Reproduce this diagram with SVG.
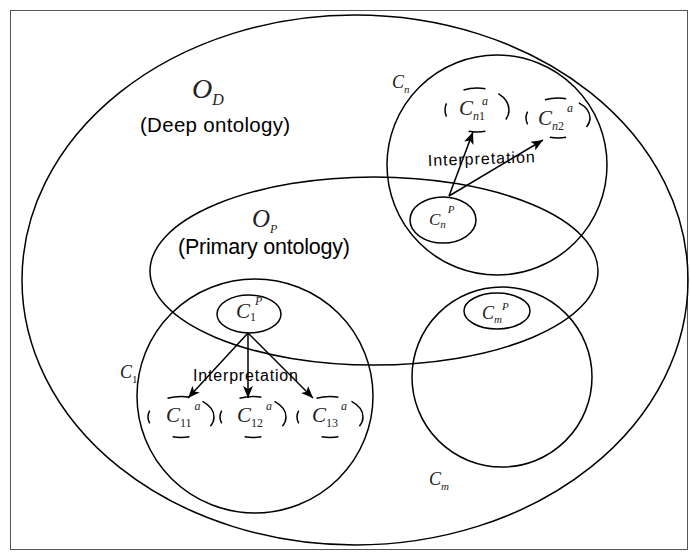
<svg xmlns="http://www.w3.org/2000/svg" width="690" height="552" viewBox="0 0 690 552">
<style>
.ln{fill:none;stroke:#000;stroke-width:1.5}
.ds{fill:none;stroke:#000;stroke-width:1.5;stroke-dasharray:6 14 10 16 8 13 13 8 12}
.m{font-family:"Liberation Serif",serif;font-style:italic;fill:#222}
.u{font-style:normal}
.s{font-family:"Liberation Sans",sans-serif;fill:#000}
.ar{stroke:#000;stroke-width:1.5;fill:none;marker-end:url(#ah)}
</style>
<defs>
<marker id="ah" viewBox="0 0 12 10" refX="12" refY="5" markerWidth="12" markerHeight="10" markerUnits="userSpaceOnUse" orient="auto">
<path d="M0,0 L12,5 L0,10 L3,5 z" fill="#000"/>
</marker>
</defs>
<rect x="10.5" y="10.5" width="677" height="539" fill="#fff" stroke="#555" stroke-width="1"/>
<g id="OD">
<ellipse class="ln" cx="355" cy="280" rx="333" ry="265"/>
<text class="m" x="192" y="98" font-size="28">O<tspan font-size="16" dy="7">D</tspan></text>
<text class="s" x="140" y="132" font-size="20.5" textLength="150">(Deep ontology)</text>
</g>
<g id="OP">
<ellipse class="ln" cx="374" cy="271" rx="224" ry="94"/>
<text class="m" x="252" y="227" font-size="25">O<tspan font-size="12" dy="6">P</tspan></text>
<text class="s" x="178" y="254" font-size="21.5" textLength="172">(Primary ontology)</text>
</g>
<g id="Cn">
<circle class="ln" cx="497" cy="165" r="110"/>
<text class="m" x="392" y="88" font-size="18">C<tspan font-size="11" dy="5">n</tspan></text>
</g>
<g id="C1">
<ellipse class="ln" cx="255" cy="396" rx="118" ry="117"/>
<text class="m" x="120" y="378" font-size="18">C<tspan class="u" font-size="11" dy="5">1</tspan></text>
</g>
<g id="Cm">
<circle class="ln" cx="502" cy="377" r="90"/>
<text class="m" x="429" y="485" font-size="18">C<tspan font-size="11" dy="5">m</tspan></text>
</g>
<g id="C1P">
<ellipse class="ln" cx="249" cy="314" rx="32" ry="19"/>
<text class="m" x="236" y="318" font-size="21">C<tspan class="u" font-size="12" dy="3">1</tspan><tspan font-size="12" dx="-1" dy="-16">P</tspan></text>
</g>
<g id="CnP">
<ellipse class="ln" cx="443" cy="220" rx="33" ry="23"/>
<text class="m" x="429" y="225" font-size="17">C<tspan font-size="11" dy="3">n</tspan><tspan font-size="11" dx="2" dy="-15">P</tspan></text>
</g>
<g id="CmP">
<ellipse class="ln" cx="497" cy="311" rx="33" ry="18"/>
<text class="m" x="482" y="319" font-size="18">C<tspan font-size="11" dy="4">m</tspan><tspan font-size="11" dx="0" dy="-13">P</tspan></text>
</g>
<g id="C11a">
<ellipse class="ds" pathLength="100" cx="181" cy="417" rx="33" ry="20.5"/>
<text class="m" x="166" y="422" font-size="21">C<tspan class="u" font-size="12" dy="5">11</tspan><tspan font-size="12" dx="3" dy="-17">a</tspan></text>
</g>
<g id="C12a">
<ellipse class="ds" pathLength="100" cx="253" cy="417" rx="33" ry="20.5"/>
<text class="m" x="237" y="422" font-size="21">C<tspan class="u" font-size="12" dy="5">12</tspan><tspan font-size="12" dx="3" dy="-17">a</tspan></text>
</g>
<g id="C13a">
<ellipse class="ds" pathLength="100" cx="330" cy="417" rx="33" ry="20.5"/>
<text class="m" x="312" y="422" font-size="21">C<tspan class="u" font-size="12" dy="5">13</tspan><tspan font-size="12" dx="3" dy="-17">a</tspan></text>
</g>
<g id="Cn1a">
<ellipse class="ds" pathLength="100" cx="477" cy="110" rx="32" ry="22"/>
<text class="m" x="459" y="115" font-size="21">C<tspan font-size="12" dy="5">n</tspan><tspan class="u" font-size="12">1</tspan><tspan font-size="12" dx="-3" dy="-15">a</tspan></text>
</g>
<g id="Cn2a">
<ellipse class="ds" pathLength="100" cx="558" cy="118" rx="32" ry="20"/>
<text class="m" x="538" y="125" font-size="21">C<tspan font-size="12" dy="5">n</tspan><tspan class="u" font-size="12">2</tspan><tspan font-size="12" dx="3" dy="-18">a</tspan></text>
</g>
<g id="connectors">
<line class="ar" x1="248" y1="333" x2="188" y2="398"/>
<line class="ar" x1="248" y1="333" x2="248" y2="398"/>
<line class="ar" x1="248" y1="333" x2="313" y2="398"/>
<line class="ar" x1="449" y1="196" x2="473" y2="132"/>
<line class="ar" x1="449" y1="196" x2="543" y2="140"/>
<text class="s" x="193" y="381" font-size="16" textLength="105">Interpretation</text>
<text class="s" x="428" y="166" font-size="16" textLength="107" transform="rotate(-2 428 166)">Interpretation</text>
</g>
</svg>
